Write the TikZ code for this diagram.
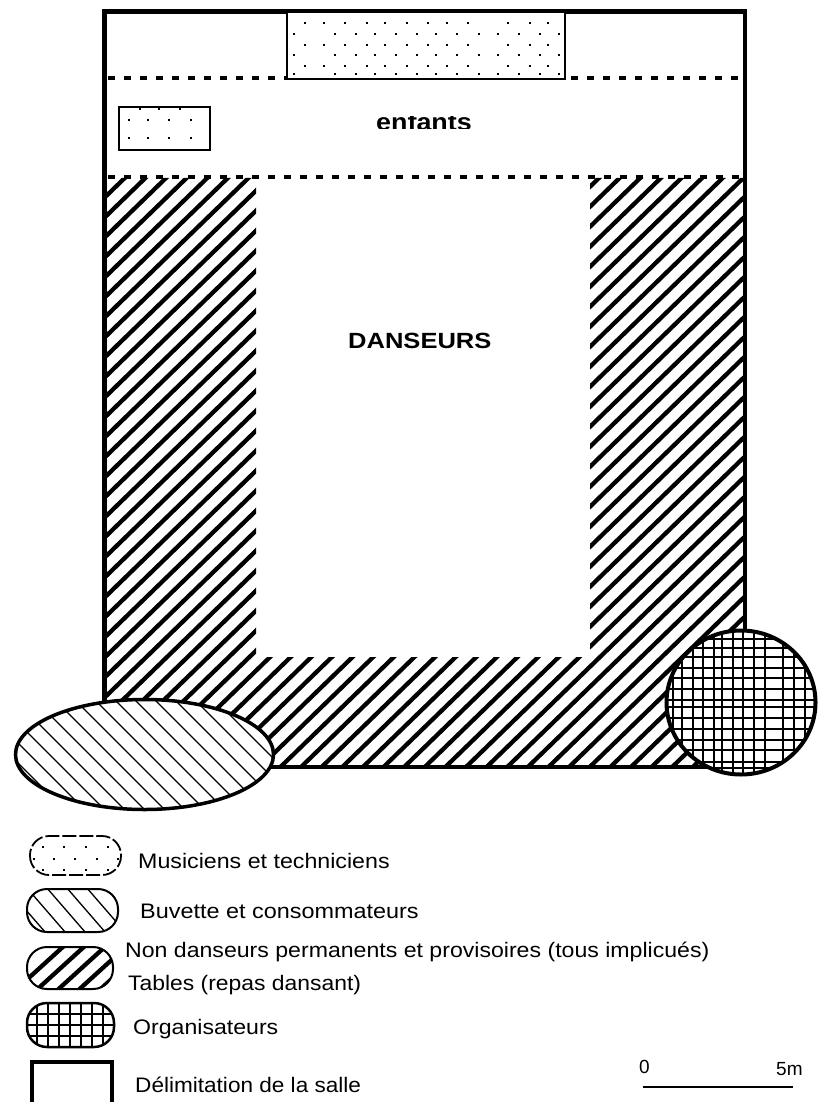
\documentclass[tikz,border=0pt]{standalone}
\usepackage{fontspec}
\usepackage{graphicx}
\setmainfont{Liberation Sans}
\tikzset{
  x=1pt,y=-1pt,
  roomline/.style={line width=4.5pt,draw=black},
  boxline/.style={line width=2pt,draw=black},
  dashline/.style={line width=4pt,draw=black,dash pattern=on 6.5pt off 9.5pt},
  thick hatch/.style={line width=4.3pt,black},
  thin hatch/.style={line width=1.3pt,black},
  gridline/.style={line width=1.8pt,black},
  speck/.style={fill=black},
  label/.style={anchor=west,inner sep=0pt,text=black},
}
\newcommand{\lab}[1]{\fontsize{#1}{#1}\selectfont}
\newcommand{\wide}[2]{\scalebox{#1}[1]{#2}}
\begin{document}
\begin{tikzpicture}
\useasboundingbox (0,0) rectangle (817,1102);
% hatched zone
\begin{scope}
\clip (106,178) -- (256,178) -- (256,657) -- (590,657) -- (590,178) -- (743,178) -- (743,767) -- (106,767) -- cycle;
\foreach \k in {-2,...,61} \draw[thick hatch] (0,{299+20*\k}) -- (1000,{299+20*\k-970});
\end{scope}
% room
\draw[roomline] (104.5,11.5) rectangle (745,767);
% dashed limits
\draw[dashline] (108,78) -- (286,78);
\draw[dashline] (571,78) -- (740,78);
\draw[dashline] (108,177) -- (740,177);
% stage
\draw[boxline,fill=white] (287,12) rectangle (565,79);
\foreach \y in {23,45,66} \foreach \x in {305,324,345,367,385,407,428,447,468,508,530,548}
  \fill[speck] (\x-1,\y-1) rectangle +(2,2);
\foreach \y in {34,55,74} \foreach \x in {294,335,356,375,396,417,436,457,479,498,519,540,559}
  \fill[speck] (\x-1,\y-1) rectangle +(2,2);
% small box
\draw[boxline] (119,107) rectangle (210,150);
\foreach \x in {140,159,180} \fill[speck] (\x-1,109-1) rectangle +(2,2);
\foreach \y in {120,138} \foreach \x in {129,148,169,191} \fill[speck] (\x-1,\y-1) rectangle +(2,2);
% buvette ellipse
\path[fill=white] (144.5,754.5) ellipse [x radius=129,y radius=55];
\begin{scope}
\clip (144.5,754.5) ellipse [x radius=129,y radius=55];
\foreach \k in {0,...,24} \draw[thin hatch] ({-55+20*\k},690) -- ({-55+20*\k+140},830);
\end{scope}
\draw[line width=3.5pt] (144.5,754.5) ellipse [x radius=129,y radius=55];
% organisers disc
\path[fill=white] (741,702.5) ellipse [x radius=74.5,y radius=72];
\begin{scope}
\clip (741,702.5) ellipse [x radius=74.5,y radius=72];
\foreach \x in {673,682,693,703,714,722,733,743,754,765,783,794,805} \draw[gridline] (\x,620) -- (\x,780);
\foreach \y in {639,648,657,668,678,689,700,707,718,729,740,750,762,768} \draw[gridline] (660,\y) -- (820,\y);
\end{scope}
\draw[line width=4pt] (741,702.5) ellipse [x radius=74.5,y radius=72];
% area names
\begin{scope}
\clip (360,117) rectangle (490,129);
\node[label,anchor=base west,font=\lab{24}\bfseries] (enfants) at (376,130.5) {\wide{1.12}{enfants}};
\end{scope}
\node[label,font=\lab{22}\bfseries] (danseurs) at (348,341) {\wide{1.16}{DANSEURS}};
% legend swatches
\begin{scope}
\clip[rounded corners=19pt] (30,836) rectangle (121,875);
\foreach \x/\y in {54/836,75/836,97/836,43/847,64/847,86/847,108/847,54/859,75/859,97/859,43/870,64/870,86/870,108/870,34/859,118/859}
  \fill[speck] (\x-1,\y-1) rectangle +(2,2);
\end{scope}
\draw[line width=1.8pt,rounded corners=19pt,dash pattern=on 14pt off 3pt] (30,836) rectangle (121,875);
\begin{scope}
\clip[rounded corners=20pt] (27,889) rectangle (118,932);
\foreach \k in {0,...,7} \draw[thin hatch] ({-20+20*\k},880) -- ({-20+20*\k+52},940);
\end{scope}
\draw[line width=2pt,rounded corners=20pt] (27,889) rectangle (118,932);
\begin{scope}
\clip[rounded corners=20pt] (27,947) rectangle (113,989);
\foreach \k in {0,...,7} \draw[thick hatch] ({10+21*\k},995) -- ({10+21*\k+55},945);
\end{scope}
\draw[line width=2pt,rounded corners=20pt] (27,947) rectangle (113,989);
\begin{scope}
\clip[rounded corners=20pt] (27,1003) rectangle (114,1047);
\foreach \x in {37,48,59,70,81,92,103} \draw[gridline] (\x,1000) -- (\x,1050);
\foreach \y in {1014,1025,1036} \draw[gridline] (20,\y) -- (120,\y);
\end{scope}
\draw[line width=2.5pt,rounded corners=20pt] (27,1003) rectangle (114,1047);
\draw[roomline] (32,1110) -- (32,1062) -- (112,1062) -- (112,1110);
% legend texts
\node[label,font=\lab{21}] (l1) at (138,861) {\wide{1.105}{Musiciens et techniciens}};
\node[label,font=\lab{21}] (l2) at (140,911) {\wide{1.115}{Buvette et consommateurs}};
\node[label,font=\lab{21}] (l3) at (125,952) {\wide{1.10}{Non danseurs permanents et provisoires (tous implicués)}};
\begin{scope}
\clip (120,970) rectangle (400,994);
\node[label,font=\lab{21}] (l3b) at (128,985) {\wide{1.09}{Tables (repas dansant)}};
\end{scope}
\node[label,font=\lab{21}] (l4) at (133,1029) {\wide{1.10}{Organisateurs}};
\node[label,font=\lab{21}] (l5) at (135,1085) {\wide{1.075}{Délimitation de la salle}};
% scale
\node[label,font=\lab{19}] (s0) at (639,1067) {0};
\node[label,font=\lab{19}] (s5) at (776,1069) {5m};
\coordinate (sa) at (643,1087);
\coordinate (sb) at (793,1087);
\draw[line width=2pt] (sa) -- (sb);
\end{tikzpicture}
\end{document}
